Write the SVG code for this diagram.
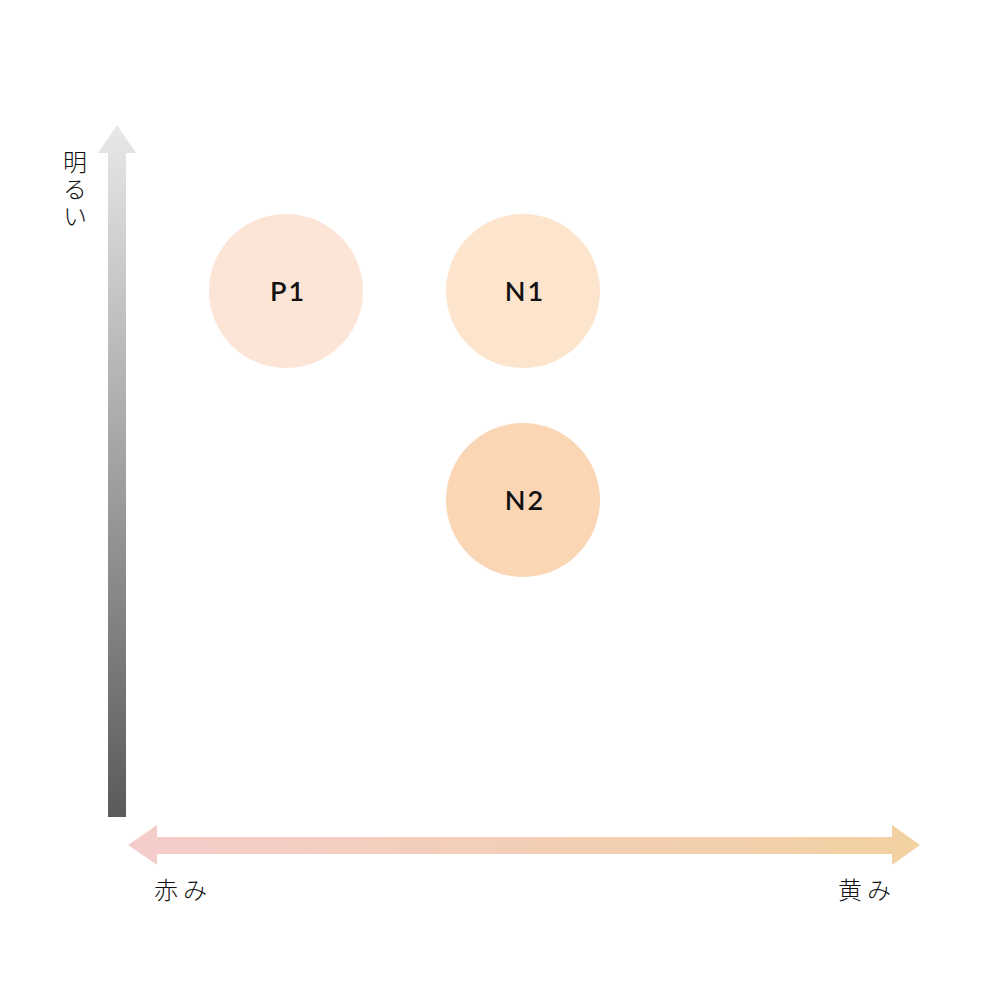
<svg xmlns="http://www.w3.org/2000/svg" width="1000" height="1000" viewBox="0 0 1000 1000">
<defs>
<linearGradient id="gv" x1="0" y1="125" x2="0" y2="817" gradientUnits="userSpaceOnUse">
<stop offset="0" stop-color="#e8e8e8"/>
<stop offset="1" stop-color="#5a5a5a"/>
</linearGradient>
<linearGradient id="gh" x1="128" y1="0" x2="920" y2="0" gradientUnits="userSpaceOnUse">
<stop offset="0" stop-color="#f4cccb"/>
<stop offset="1" stop-color="#f2d1a2"/>
</linearGradient>
<style>
.lbl{font-family:"Noto Sans CJK JP","Noto Sans",sans-serif;font-size:24px;font-weight:300;fill:#111}
.nl{font-family:"Lato","Noto Sans",sans-serif;font-size:27px;font-weight:600;fill:#111;text-anchor:middle;letter-spacing:2px}
</style>
</defs>
<rect width="1000" height="1000" fill="#fff"/>
<g id="axes">
<path d="M108,817 L108,153 L98,153 L117,125 L136,153 L126,153 L126,817 Z" fill="url(#gv)"/>
<path d="M128,845 L157,825 L157,837 L892,837 L892,825 L920,845 L892,865 L892,854 L157,854 L157,865 Z" fill="url(#gh)"/>
</g>
<g id="axis-labels">
<text class="lbl" x="75" y="150" writing-mode="tb" letter-spacing="3">明るい</text>
<text class="lbl" x="154" y="899" letter-spacing="5">赤み</text>
<text class="lbl" x="838" y="899" letter-spacing="5">黄み</text>
</g>
<g id="P1"><circle cx="286" cy="291" r="77" fill="#fce4d6"/><text class="nl" x="288" y="301">P1</text></g>
<g id="N1"><circle cx="523" cy="291" r="77" fill="#fde4cc"/><text class="nl" x="525" y="301">N1</text></g>
<g id="N2"><circle cx="523" cy="500" r="77" fill="#fbd6b5"/><text class="nl" x="525" y="510">N2</text></g>
</svg>
